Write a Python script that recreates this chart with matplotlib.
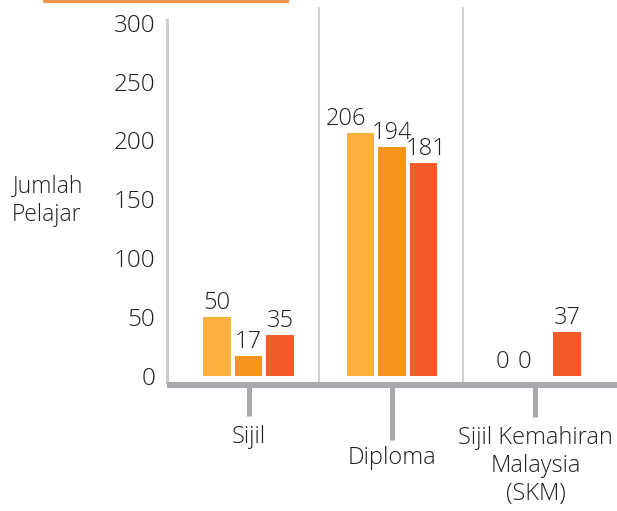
import matplotlib
matplotlib.use("Agg")
import matplotlib.pyplot as plt
from matplotlib.lines import Line2D

plt.rcParams["font.family"] = ["Open Sans", "DejaVu Sans"]
plt.rcParams["font.weight"] = "light"

# Data
categories = ["Sijil", "Diploma", "Sijil Kemahiran\nMalaysia\n(SKM)"]
series_a = [50, 206, 0]
series_b = [17, 194, 0]
series_c = [35, 181, 37]
y_ticks = [0, 50, 100, 150, 200, 250, 300]
y_label = "Jumlah\nPelajar"

colors = ["#FBB040", "#F7941D", "#F15A29"]
text_color = "#231F20"
grey_axis = "#A7A9AC"
grey_sep = "#CDCDCD"

W, H = 617, 511
fig = plt.figure(figsize=(W / 100, H / 100), dpi=100)

# axes spans the plotting region in pixel terms
px_per_unit = 1.178
y0_px = 376.0
ax_bottom_px = 390.0
v_bottom = -(ax_bottom_px - y0_px) / px_per_unit
v_top = y0_px / px_per_unit
ax = fig.add_axes([167 / W, (H - ax_bottom_px) / H, 1 - 167 / W, ax_bottom_px / H])
ax.set_ylim(v_bottom, v_top)
ax.set_xlim(-0.568, 2.568)
for s in ax.spines.values():
    s.set_visible(False)
ax.set_xticks([])
ax.set_yticks(y_ticks)
ax.set_yticklabels([str(t) for t in y_ticks])
ax.tick_params(axis="y", length=0, pad=8.5, labelsize=17.5, labelcolor=text_color)

width = 0.195
step = 0.2195
xs = list(range(len(categories)))
series = [series_a, series_b, series_c]

# label nudges (pixels) where neighbouring labels would collide: [series][category]
label_dx = [[0, -15, -1.5], [0, 0, -11], [0, 3, 0]]

for si, vals in enumerate(series):
    pos = [x + (si - 1) * step for x in xs]
    bars = ax.bar(pos, vals, width=width, color=colors[si], zorder=3)
    for ci, (b, v) in enumerate(zip(bars, vals)):
        ax.annotate(str(v), (b.get_x() + b.get_width() / 2, v),
                    xytext=(label_dx[si][ci] * 0.72, 1.5), textcoords="offset points",
                    ha="center", va="bottom", fontsize=17, color=text_color, zorder=4)

# vertical separators between groups and left edge
sep_top = (y0_px - 14) / px_per_unit
sep_bot = -(382 - y0_px) / px_per_unit
ax.plot([-0.568 + 0.003, -0.568 + 0.003], [sep_bot, sep_top - 5], color=grey_sep, lw=2.2, zorder=1, clip_on=False)
for xsep in [0.491, 1.495]:
    ax.plot([xsep, xsep], [sep_bot, sep_top + 5], color=grey_sep, lw=1.3, zorder=1, clip_on=False)

# baseline
base_v = -(385 - y0_px) / px_per_unit
ax.plot([-0.568, 2.568], [base_v, base_v], color=grey_axis, lw=4.4, solid_capstyle="butt", zorder=5, clip_on=False)

# hanging category ticks and labels
stem_ends = [416, 440, 417]
label_centers = [437, 458, 466]
for x, end_px, lab_px, name in zip(xs, stem_ends, label_centers, categories):
    ax.plot([x, x], [base_v, -(end_px - y0_px) / px_per_unit], color=grey_axis, lw=3.6,
            solid_capstyle="butt", zorder=5, clip_on=False)
    ax.text(x, -(lab_px - y0_px) / px_per_unit, name, ha="center", va="center",
            fontsize=17, color=text_color, linespacing=1.2, clip_on=False)

# y axis title
fig.text(12 / W, 1 - 201 / H, y_label, ha="left", va="center", fontsize=16.5,
         color=text_color, linespacing=1.25)

# accent rule at the top
fig.add_artist(Line2D([44 / W, 287 / W], [1 - 1.2 / H, 1 - 1.2 / H], color="#F0954A", lw=2.2,
                      transform=fig.transFigure))

fig.savefig("out.png", dpi=100)
